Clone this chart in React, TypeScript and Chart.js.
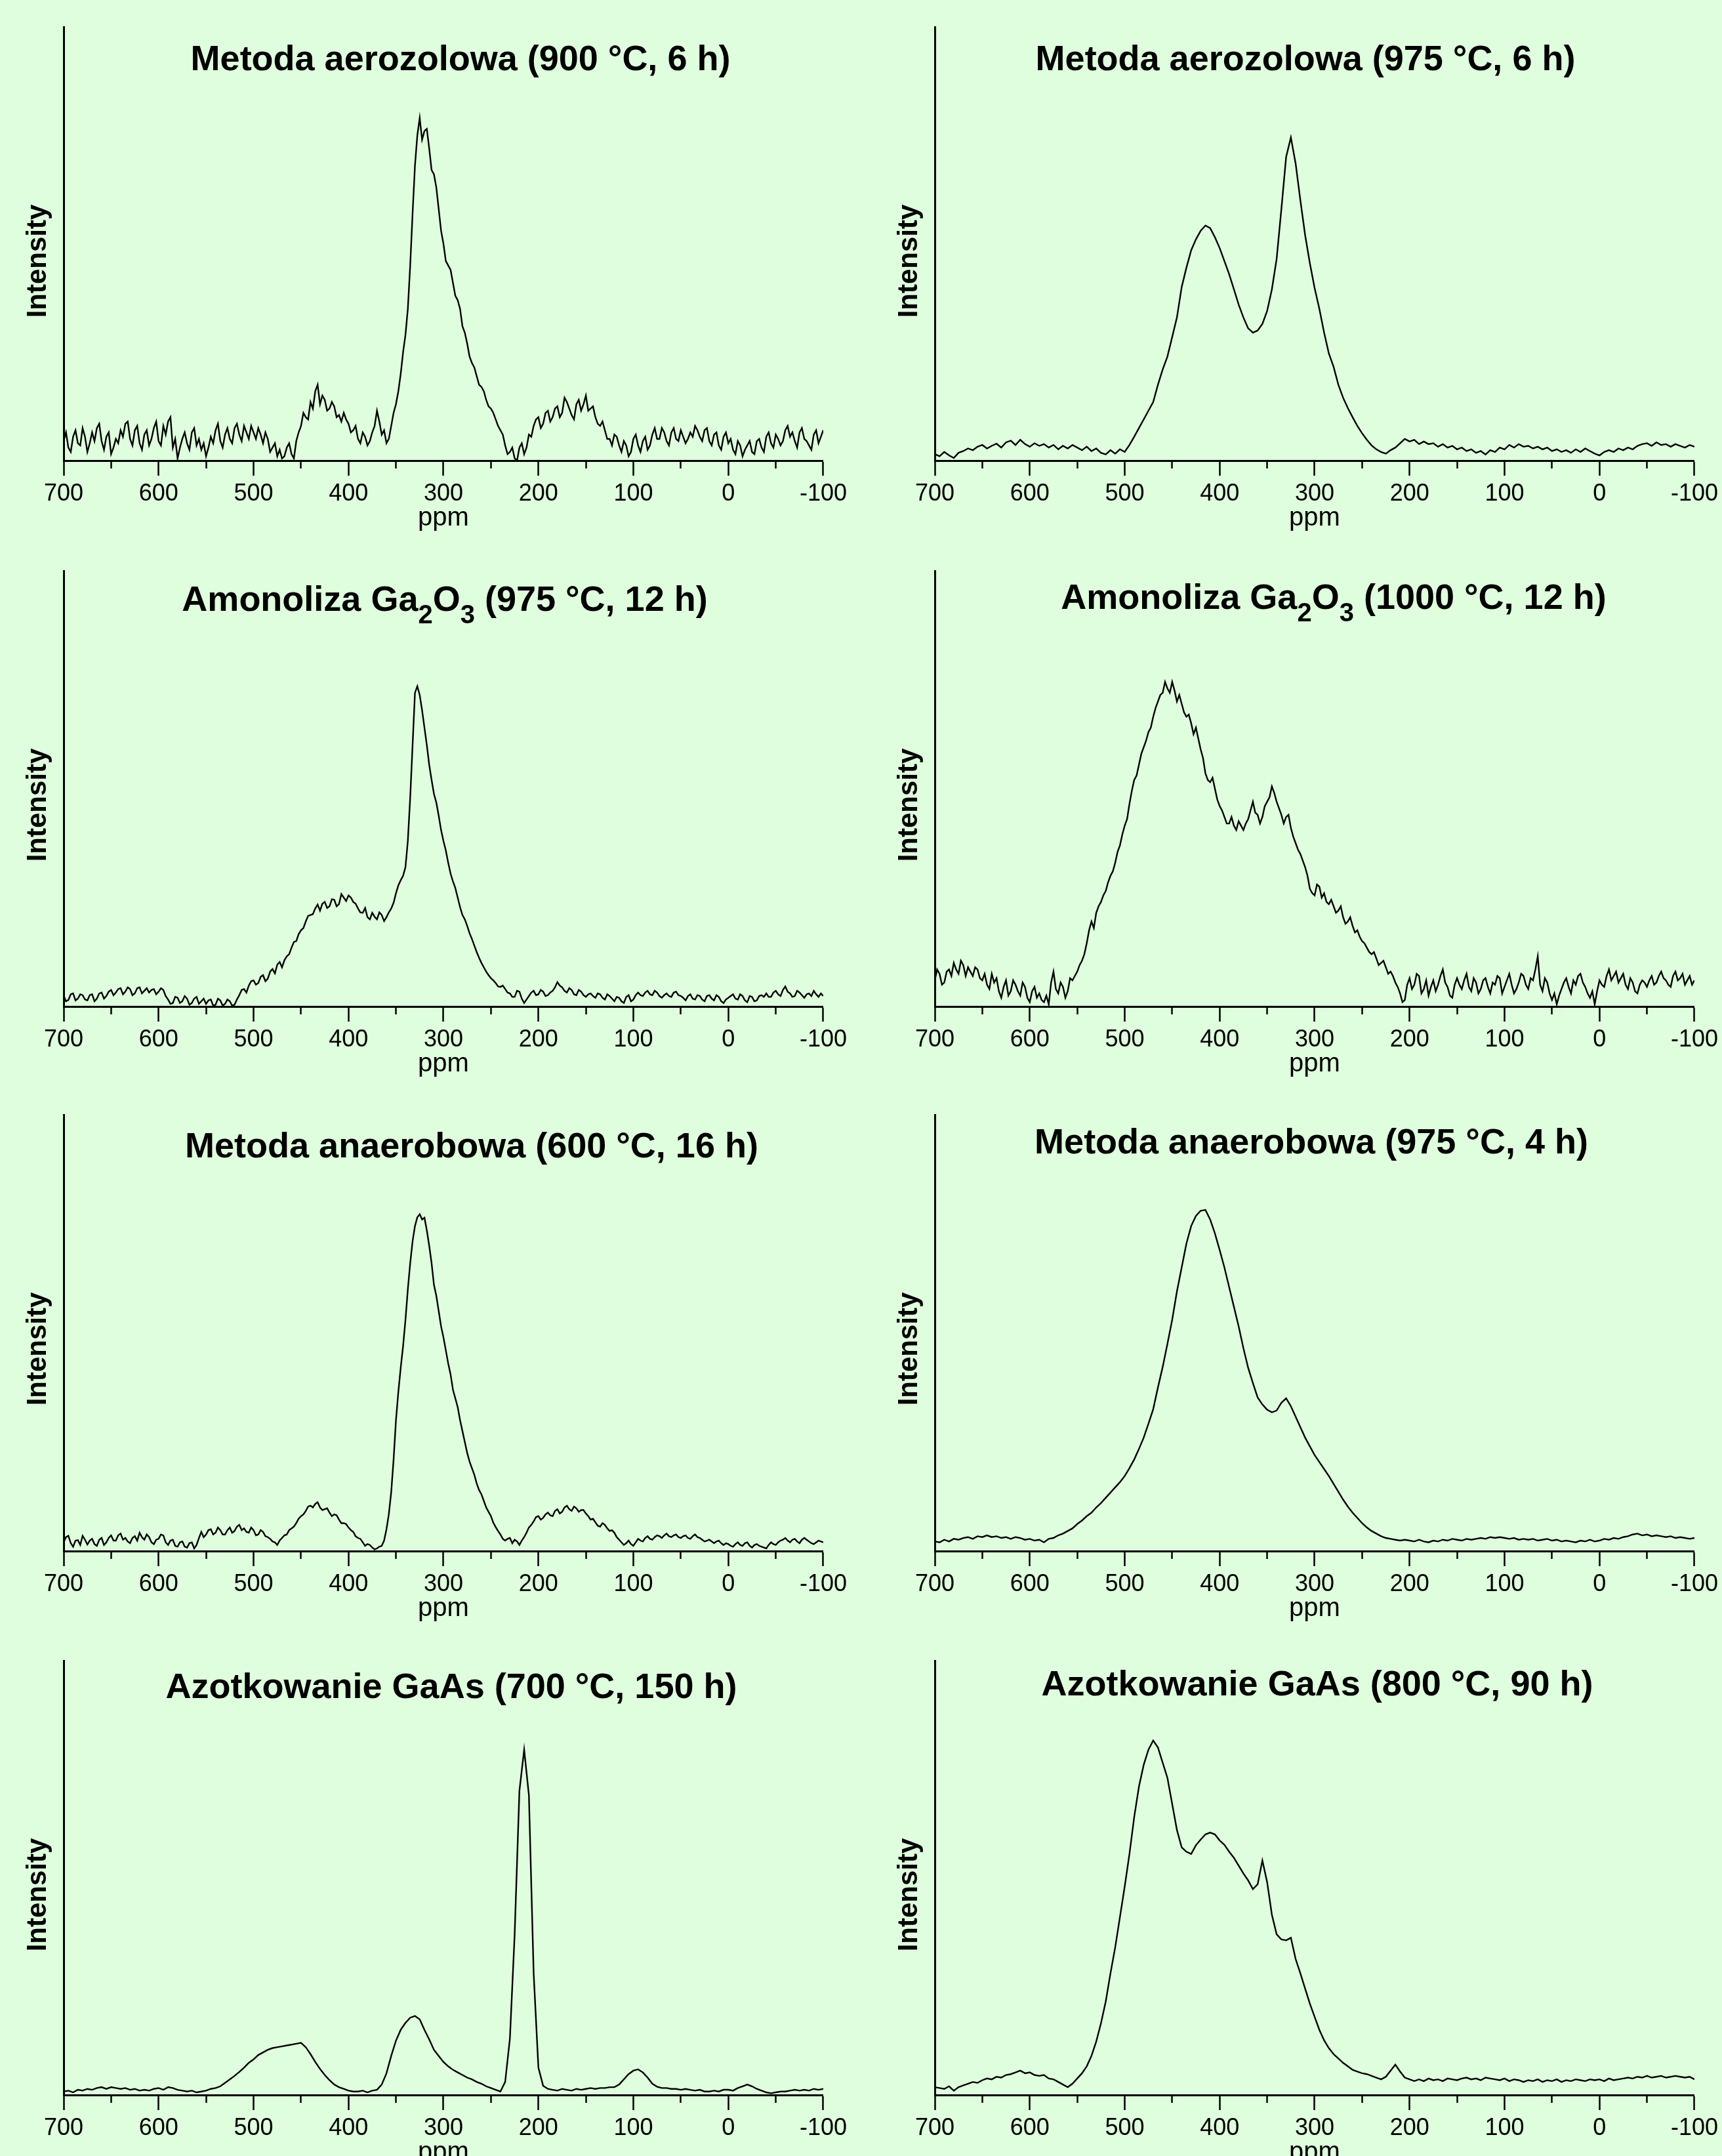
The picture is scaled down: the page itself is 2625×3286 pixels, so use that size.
import React, { useEffect, useRef } from "react";
import { Chart, registerables } from "chart.js";

Chart.register(...registerables);

// ---------- data ----------
const PPM = [
  700, 695, 690, 685, 680, 675, 670, 665, 660, 655,
  650, 645, 640, 635, 630, 625, 620, 615, 610, 605,
  600, 595, 590, 585, 580, 575, 570, 565, 560, 555,
  550, 545, 540, 535, 530, 525, 520, 515, 510, 505,
  500, 495, 490, 485, 480, 475, 470, 465, 460, 455,
  450, 445, 440, 435, 430, 425, 420, 415, 410, 405,
  400, 395, 390, 385, 380, 375, 370, 365, 360, 355,
  350, 345, 340, 335, 330, 325, 320, 315, 310, 305,
  300, 295, 290, 285, 280, 275, 270, 265, 260, 255,
  250, 245, 240, 235, 230, 225, 220, 215, 210, 205,
  200, 195, 190, 185, 180, 175, 170, 165, 160, 155,
  150, 145, 140, 135, 130, 125, 120, 115, 110, 105,
  100, 95, 90, 85, 80, 75, 70, 65, 60, 55,
  50, 45, 40, 35, 30, 25, 20, 15, 10, 5,
  0, -5, -10, -15, -20, -25, -30, -35, -40, -45,
  -50, -55, -60, -65, -70, -75, -80, -85, -90, -95,
  -100,
];

// in-between sample positions, used by the noisier spectra
const PPM_MID = [
  697.5, 692.5, 687.5, 682.5, 677.5, 672.5, 667.5, 662.5, 657.5, 652.5,
  647.5, 642.5, 637.5, 632.5, 627.5, 622.5, 617.5, 612.5, 607.5, 602.5,
  597.5, 592.5, 587.5, 582.5, 577.5, 572.5, 567.5, 562.5, 557.5, 552.5,
  547.5, 542.5, 537.5, 532.5, 527.5, 522.5, 517.5, 512.5, 507.5, 502.5,
  497.5, 492.5, 487.5, 482.5, 477.5, 472.5, 467.5, 462.5, 457.5, 452.5,
  447.5, 442.5, 437.5, 432.5, 427.5, 422.5, 417.5, 412.5, 407.5, 402.5,
  397.5, 392.5, 387.5, 382.5, 377.5, 372.5, 367.5, 362.5, 357.5, 352.5,
  347.5, 342.5, 337.5, 332.5, 327.5, 322.5, 317.5, 312.5, 307.5, 302.5,
  297.5, 292.5, 287.5, 282.5, 277.5, 272.5, 267.5, 262.5, 257.5, 252.5,
  247.5, 242.5, 237.5, 232.5, 227.5, 222.5, 217.5, 212.5, 207.5, 202.5,
  197.5, 192.5, 187.5, 182.5, 177.5, 172.5, 167.5, 162.5, 157.5, 152.5,
  147.5, 142.5, 137.5, 132.5, 127.5, 122.5, 117.5, 112.5, 107.5, 102.5,
  97.5, 92.5, 87.5, 82.5, 77.5, 72.5, 67.5, 62.5, 57.5, 52.5,
  47.5, 42.5, 37.5, 32.5, 27.5, 22.5, 17.5, 12.5, 7.5, 2.5,
  -2.5, -7.5, -12.5, -17.5, -22.5, -27.5, -32.5, -37.5, -42.5, -47.5,
  -52.5, -57.5, -62.5, -67.5, -72.5, -77.5, -82.5, -87.5, -92.5, -97.5,
];

const X_TICKS = [700, 600, 500, 400, 300, 200, 100, 0, -100];

const AERO_900 = [
  4.5, 3.0, 5.5, 4.0, 7.5, 2.0, 6.5, 7.5, 4.5, 5.5,
  1.5, 5.0, 7.0, 8.5, 5.0, 7.0, 4.0, 6.0, 3.5, 7.5,
  4.5, 8.0, 9.0, 3.0, 0.5, 5.0, 4.0, 6.5, 3.5, 2.5,
  1.0, 5.5, 7.0, 4.5, 6.0, 5.0, 7.5, 6.0, 8.0, 5.0,
  6.5, 7.5, 4.0, 5.0, 3.0, 1.0, 0.5, 3.0, 1.5, 4.5,
  8.0, 10.0, 13.5, 16.0, 13.0, 14.0, 12.0, 12.5, 10.5, 11.0,
  8.5, 7.0, 5.0, 6.5, 3.5, 6.5, 11.5, 6.0, 4.0, 8.0,
  13.0, 20.0, 29.0, 45.0, 68.0, 79.0, 76.0, 72.0, 66.0, 58.0,
  50.0, 45.0, 41.0, 37.0, 31.0, 27.0, 22.5, 19.5, 17.0, 14.0,
  12.0, 9.5, 7.0, 3.5, 2.0, 0.5, 3.0, 1.5, 6.0, 8.0,
  10.0, 8.5, 11.5, 10.0, 12.5, 11.0, 13.5, 10.5, 13.0, 11.5,
  15.0, 12.0, 10.0, 8.0, 7.0, 5.0, 6.0, 3.5, 4.5, 1.0,
  5.0, 3.5, 4.5, 2.5, 6.0, 5.0, 7.5, 4.5, 6.5, 5.0,
  7.0, 4.0, 6.5, 8.0, 5.5, 7.0, 4.5, 6.0, 3.5, 5.5,
  4.0, 2.5, 4.5, 1.0, 3.5, 2.0, 4.5, 3.0, 5.5, 4.0,
  6.0, 3.5, 7.0, 5.5, 4.5, 6.5, 5.0, 3.5, 6.0, 4.0,
  7.0,
];
const AERO_900_MID = [
  6.5, 2.0, 7.0, 3.5, 5.5, 4.0, 4.5, 8.5, 2.5, 6.5,
  3.0, 4.0, 5.5, 9.0, 3.5, 8.0, 2.5, 7.0, 5.0, 9.0,
  3.5, 6.0, 10.0, 5.0, 3.0, 6.5, 2.5, 7.5, 5.0, 4.0,
  3.0, 4.0, 8.5, 3.0, 7.5, 4.0, 8.5, 4.5, 6.5, 8.0,
  5.0, 6.0, 6.5, 2.0, 4.0, 2.5, 1.0, 4.0, 0.5, 6.5,
  11.0, 9.5, 12.0, 17.5, 15.0, 11.5, 13.5, 10.0, 9.0, 9.5,
  6.5, 8.0, 4.0, 5.5, 4.5, 8.0, 9.0, 7.0, 5.0, 11.0,
  16.0, 25.0, 35.0, 57.0, 75.0, 74.0, 76.5, 67.0, 63.0, 53.0,
  46.0, 44.0, 38.0, 35.0, 29.5, 24.0, 21.5, 17.5, 16.0, 12.5,
  11.0, 8.0, 6.0, 1.5, 3.0, 0.0, 4.0, 3.0, 5.5, 9.5,
  7.5, 11.0, 9.0, 12.0, 10.0, 14.5, 12.0, 9.5, 14.0, 13.0,
  11.5, 12.5, 8.5, 9.0, 5.0, 3.5, 5.5, 2.0, 3.5, 2.0,
  6.0, 2.0, 5.5, 3.5, 7.5, 5.0, 6.5, 3.5, 7.5, 4.5,
  5.5, 5.0, 5.5, 7.0, 4.5, 7.5, 3.5, 6.5, 2.5, 6.5,
  5.0, 1.5, 3.5, 2.5, 4.5, 1.5, 5.0, 2.0, 6.5, 3.0,
  5.0, 4.5, 8.0, 6.5, 3.0, 7.5, 4.5, 2.5, 7.0, 5.5,
];

const AERO_975 = [
  1.5, 1.0, 2.0, 1.2, 0.6, 1.8, 2.2, 2.8, 2.4, 3.2,
  3.6, 2.8, 3.4, 3.9, 3.0, 4.2, 4.6, 3.6, 4.8, 3.8,
  3.2, 4.0, 3.4, 3.8, 3.0, 3.6, 2.6, 3.4, 2.8, 3.6,
  3.0, 2.4, 3.2, 2.2, 2.8, 1.8, 1.4, 2.4, 1.6, 2.6,
  2.0, 3.6, 5.5, 7.5, 9.5, 11.5, 13.5, 17.5, 21.0, 24.0,
  28.5, 33.0, 40.0, 44.5, 48.5, 51.0, 53.0, 54.2, 53.6, 51.5,
  49.0, 46.0, 43.0, 39.5, 36.0, 33.0, 30.5, 29.5, 30.0, 31.5,
  34.5, 39.5, 46.5, 58.0, 70.0, 74.5, 68.5, 60.0, 52.0, 45.5,
  39.8, 35.0, 29.5, 24.7, 21.6, 17.5, 14.5, 12.1, 10.0, 8.0,
  6.3, 4.8, 3.5, 2.6, 2.0, 1.6, 2.4, 3.0, 4.0, 5.0,
  4.4, 4.8, 3.8, 4.4, 3.8, 4.0, 3.2, 3.8, 3.0, 3.4,
  2.6, 3.0, 2.2, 2.6, 1.8, 2.2, 1.4, 2.4, 2.0, 3.0,
  2.6, 3.6, 3.0, 3.8, 3.2, 3.4, 2.8, 3.2, 2.6, 3.0,
  2.2, 2.6, 2.0, 2.4, 1.8, 2.6, 2.0, 2.8, 2.2, 1.6,
  1.2, 2.0, 2.4, 2.0, 2.8, 2.4, 3.0, 2.6, 3.4, 3.8,
  4.0, 3.4, 4.2, 3.6, 3.8, 3.2, 3.8, 3.4, 3.0, 3.6,
  3.2,
];

const AMON_975 = [
  2.5, 1.5, 3.0, 1.8, 2.6, 1.4, 2.8, 1.8, 3.2, 2.4,
  3.8, 3.2, 4.2, 3.4, 4.0, 3.0, 4.4, 3.6, 3.2, 4.0,
  3.4, 3.8, 1.6, 0.8, 2.0, 1.2, 1.8, 0.8, 2.2, 1.2,
  0.6, 1.6, 0.4, 1.4, 0.6, 1.2, 0.4, 2.6, 4.0, 4.8,
  6.0, 5.4, 7.2, 6.4, 8.6, 9.6, 9.0, 11.5, 13.5, 15.0,
  17.5, 19.5, 21.0, 22.5, 22.0, 24.0, 23.0, 24.5, 23.5, 25.0,
  25.5, 24.0, 22.5, 21.5, 20.5, 21.5, 20.0, 21.0, 20.5, 22.5,
  26.0, 29.0, 32.0, 48.0, 72.0, 71.5, 64.0, 55.5, 48.8, 43.8,
  38.0, 33.0, 28.7, 25.0, 21.0, 18.5, 15.5, 12.5, 10.0, 8.0,
  6.5, 5.4, 4.5, 4.0, 3.0, 2.2, 3.4, 0.8, 2.4, 3.6,
  2.8, 3.4, 2.6, 3.6, 5.6, 4.4, 3.2, 3.8, 2.6, 3.4,
  2.2, 3.0, 2.0, 2.8, 1.6, 2.4, 1.2, 2.0, 0.8, 2.6,
  1.6, 3.2, 2.4, 3.6, 2.6, 3.2, 2.0, 3.0, 2.2, 3.4,
  2.4, 1.4, 2.8, 1.6, 2.4, 1.2, 2.6, 1.4, 2.2, 0.8,
  2.0, 2.8, 1.6, 2.4, 1.0, 2.2, 1.4, 2.6, 3.0, 2.2,
  3.6, 2.4, 4.6, 3.0, 2.4, 3.2, 2.0, 3.0, 3.6, 2.2,
  2.4,
];
const AMON_975_MID = [
  1.2, 2.8, 1.4, 2.8, 1.6, 2.6, 1.2, 3.0, 1.8, 3.4,
  2.6, 4.0, 2.8, 4.4, 2.6, 4.2, 3.0, 4.2, 3.8, 2.8,
  4.2, 2.4, 0.6, 2.2, 0.8, 2.4, 0.4, 1.8, 0.6, 1.8,
  1.4, 0.2, 1.8, 0.2, 1.6, 0.2, 1.6, 3.8, 3.2, 5.8,
  5.0, 6.8, 5.8, 8.0, 7.6, 10.2, 10.6, 12.0, 14.8, 16.6,
  18.0, 20.8, 21.2, 23.4, 23.6, 22.6, 24.6, 23.0, 25.8, 24.2,
  25.0, 23.6, 21.6, 22.6, 20.0, 20.6, 21.6, 19.6, 21.6, 23.8,
  27.8, 30.0, 38.0, 60.0, 73.5, 68.0, 60.0, 52.0, 46.8, 40.5,
  35.8, 30.5, 27.2, 22.8, 20.0, 16.8, 14.0, 11.2, 9.0, 7.2,
  6.0, 4.6, 4.8, 3.2, 2.2, 3.6, 1.8, 1.6, 3.2, 2.6,
  3.8, 2.4, 3.2, 4.4, 4.8, 3.6, 4.2, 2.8, 3.8, 2.6,
  2.8, 2.4, 3.0, 2.0, 2.8, 1.8, 2.2, 1.2, 2.2, 1.2,
  2.6, 2.6, 3.2, 2.8, 3.6, 2.4, 2.6, 2.4, 3.2, 2.6,
  2.0, 2.4, 1.8, 2.6, 1.6, 2.4, 1.8, 2.6, 1.2, 1.6,
  2.4, 1.8, 2.8, 1.4, 2.4, 1.2, 2.4, 2.2, 2.2, 3.2,
  2.8, 3.8, 3.4, 2.2, 3.6, 2.6, 2.8, 2.4, 2.8, 3.0,
];

const AMON_1000 = [
  6.0, 7.5, 5.5, 8.5, 10.0, 7.5, 9.5, 9.0, 7.0, 8.5,
  6.0, 5.0, 7.5, 6.5, 2.0, 6.0, 3.5, 5.0, 2.5, 4.5,
  1.0, 4.5, 3.0, 1.0, 0.5, 8.0, 3.0, 4.5, 3.5, 6.0,
  8.0, 10.5, 14.5, 19.5, 21.5, 24.0, 26.5, 30.0, 33.0, 37.0,
  41.5, 46.5, 52.0, 55.5, 59.5, 63.0, 66.5, 70.0, 72.0, 73.0,
  74.5, 70.0, 69.5, 66.5, 65.0, 64.0, 59.0, 53.5, 51.5, 50.0,
  46.0, 43.5, 42.0, 41.5, 42.5, 40.5, 43.0, 47.0, 44.0, 43.5,
  47.0, 50.5, 47.0, 44.0, 43.5, 41.0, 37.5, 35.0, 32.0, 27.0,
  25.5, 27.5, 26.0, 23.5, 23.0, 22.0, 20.5, 19.5, 18.5, 17.5,
  15.0, 13.5, 12.0, 11.0, 10.0, 9.0, 8.0, 5.5, 3.0, 1.5,
  6.5, 5.0, 7.0, 4.0, 2.5, 6.0, 5.0, 8.5, 4.5, 2.0,
  6.5, 4.0, 7.5, 3.5, 5.5, 4.0, 6.5, 3.0, 5.0, 6.5,
  4.5, 7.5, 3.0, 5.5, 7.0, 4.0, 6.0, 11.5, 3.5, 5.5,
  1.5, 0.5, 4.0, 6.5, 3.0, 5.0, 7.5, 4.5, 2.0, 0.5,
  6.0, 4.5, 8.5, 7.0, 5.5, 7.5, 4.0, 5.5, 3.0, 6.0,
  4.5, 7.0, 5.5, 8.0, 6.0, 4.5, 8.0, 6.5, 5.0, 7.0,
  6.0,
];
const AMON_1000_MID = [
  8.5, 5.0, 8.0, 7.0, 8.5, 10.5, 7.0, 8.0, 9.0, 6.5,
  7.5, 4.0, 5.5, 3.5, 4.5, 2.5, 6.0, 3.5, 5.5, 2.0,
  3.5, 2.0, 1.5, 2.5, 5.5, 4.0, 5.5, 2.0, 6.5, 7.0,
  9.5, 12.0, 17.5, 18.0, 23.0, 25.5, 28.5, 31.0, 35.5, 39.5,
  43.0, 49.5, 53.0, 58.0, 61.0, 64.0, 68.5, 71.5, 74.5, 72.0,
  72.5, 71.5, 67.5, 67.0, 62.5, 61.5, 57.0, 52.0, 52.5, 47.5,
  45.0, 42.0, 43.5, 40.5, 41.5, 42.0, 45.0, 44.5, 42.0, 46.0,
  48.0, 49.0, 45.5, 42.0, 44.0, 39.0, 36.0, 33.5, 30.0, 26.0,
  28.0, 25.0, 24.0, 24.5, 21.5, 23.0, 19.0, 20.5, 17.0, 16.0,
  14.5, 12.5, 12.5, 9.5, 10.5, 7.5, 7.0, 4.5, 1.0, 5.0,
  4.0, 7.5, 3.0, 6.0, 4.5, 3.5, 7.0, 5.5, 2.5, 5.0,
  5.0, 6.0, 4.5, 6.5, 3.0, 6.0, 4.5, 5.5, 7.0, 3.0,
  6.0, 5.0, 4.0, 7.5, 5.0, 6.5, 8.5, 5.0, 6.5, 3.0,
  3.0, 2.5, 5.5, 4.5, 6.0, 7.0, 5.5, 3.0, 3.5, 3.5,
  5.0, 7.0, 6.0, 8.0, 6.5, 5.0, 6.5, 3.5, 5.0, 5.5,
  6.0, 5.0, 7.0, 6.5, 5.0, 7.0, 6.0, 7.5, 6.0, 5.0,
];

const ANAER_600 = [
  2.0, 3.5, 1.0, 2.5, 3.5, 1.5, 2.8, 1.2, 3.0, 2.0,
  3.6, 2.4, 4.0, 3.0, 1.8, 3.4, 4.2, 2.6, 3.2, 1.6,
  2.8, 3.6, 1.4, 2.6, 1.0, 2.2, 0.8, 2.0, 1.4, 4.4,
  3.8, 5.0, 4.2, 4.8, 3.8, 5.4, 4.6, 6.0, 5.2, 4.2,
  4.8, 3.8, 4.4, 3.2, 2.2, 1.4, 3.0, 3.8, 5.2, 6.4,
  8.0, 9.2, 10.4, 10.8, 10.0, 9.6, 8.8, 8.4, 7.2, 6.4,
  5.4, 4.4, 3.0, 2.0, 1.6, 0.8, 0.6, 1.2, 5.0, 13.5,
  30.0, 42.0, 53.0, 66.0, 74.5, 77.2, 76.4, 70.0, 61.0, 55.0,
  49.0, 43.0, 37.0, 33.0, 27.5, 22.5, 19.0, 15.5, 13.0, 10.0,
  8.0, 5.5, 3.8, 2.4, 3.0, 2.6, 1.4, 3.2, 5.4, 6.8,
  8.0, 7.6, 8.8, 8.0, 9.6, 9.0, 10.4, 9.2, 9.8, 9.4,
  8.6, 7.2, 6.6, 5.6, 6.0, 4.6, 4.2, 2.6, 1.4, 2.4,
  1.2, 2.8, 2.2, 3.4, 2.6, 3.6, 3.0, 4.0, 3.2, 3.8,
  3.0, 3.6, 2.8, 3.8, 3.0, 2.2, 2.6, 1.8, 2.4, 1.4,
  1.6, 1.0, 2.0, 1.2, 2.0, 0.8, 1.6, 1.0, 0.6, 2.0,
  1.4, 2.4, 3.0, 2.0, 2.8, 1.8, 3.0, 2.2, 1.6, 2.4,
  2.0,
];
const ANAER_600_MID = [
  3.2, 1.8, 2.4, 1.4, 2.6, 2.4, 1.6, 2.6, 1.4, 3.0,
  2.4, 3.6, 2.6, 2.2, 3.0, 2.4, 3.2, 3.8, 2.0, 2.6,
  3.8, 2.0, 2.4, 1.2, 2.0, 1.0, 1.8, 0.6, 3.0, 3.2,
  4.8, 3.8, 5.4, 3.8, 4.8, 4.2, 5.6, 4.8, 4.4, 5.4,
  3.6, 4.8, 3.4, 2.8, 2.0, 2.4, 3.6, 4.8, 5.6, 7.4,
  8.4, 10.2, 10.0, 11.2, 9.4, 9.8, 8.0, 8.2, 6.4, 6.2,
  4.8, 3.4, 2.8, 1.2, 1.4, 0.4, 1.0, 2.4, 8.5, 21.0,
  36.5, 47.0, 60.0, 71.0, 76.5, 76.0, 73.5, 66.0, 58.5, 51.5,
  46.0, 40.5, 35.0, 30.0, 25.0, 20.5, 17.5, 14.0, 11.5, 9.0,
  6.5, 4.6, 2.8, 2.8, 1.8, 2.2, 2.4, 4.2, 6.0, 7.8,
  7.2, 8.4, 8.2, 9.2, 8.6, 10.0, 9.6, 10.2, 9.0, 9.4,
  8.0, 7.4, 5.8, 6.4, 5.2, 4.8, 3.2, 2.0, 1.8, 1.6,
  2.0, 2.4, 3.0, 2.8, 3.2, 3.4, 3.6, 3.4, 3.6, 3.2,
  3.4, 3.0, 3.4, 3.2, 2.6, 2.4, 2.2, 2.2, 1.8, 1.8,
  1.2, 1.6, 1.4, 1.8, 1.2, 1.4, 1.2, 0.8, 1.4, 1.6,
  2.0, 2.6, 2.4, 2.6, 2.2, 2.6, 2.6, 1.8, 2.0, 2.2,
];

const ANAER_975 = [
  2.2, 2.0, 2.6, 2.2, 2.8, 2.6, 3.0, 3.2, 2.8, 3.4,
  3.2, 3.6, 3.2, 3.4, 3.0, 3.2, 2.8, 3.2, 3.0, 2.6,
  2.8, 2.4, 2.6, 2.0, 2.8, 3.0, 3.6, 4.0, 4.6, 5.2,
  6.2, 7.0, 8.0, 8.8, 10.0, 11.0, 12.2, 13.4, 14.6, 15.8,
  17.2, 19.0, 21.0, 23.4, 26.0, 29.2, 32.5, 37.5, 42.2, 47.5,
  53.0, 59.5, 65.0, 70.5, 74.5, 76.8, 78.0, 78.2, 76.0, 72.8,
  69.0, 65.0, 60.5, 56.0, 51.5, 46.5, 42.0, 38.5, 35.2, 33.6,
  32.4, 31.8, 32.2, 34.0, 35.0, 33.2, 30.8, 28.4, 26.0, 24.0,
  22.0, 20.4, 18.8, 17.2, 15.4, 13.6, 11.8, 10.2, 8.8, 7.6,
  6.4, 5.4, 4.6, 4.0, 3.4, 3.0, 2.8, 2.6, 2.4, 2.6,
  2.4, 2.2, 2.6, 2.2, 2.0, 2.4, 2.2, 2.6, 2.4, 2.8,
  2.6, 2.4, 2.8, 2.6, 2.8, 3.0, 2.8, 3.2, 3.0, 3.2,
  3.0, 2.8, 3.0, 2.6, 2.8, 2.6, 2.8, 2.4, 2.6, 2.8,
  2.4, 2.6, 2.2, 2.4, 2.2, 2.0, 2.4, 2.2, 2.6, 2.2,
  2.4, 2.8, 2.6, 3.0, 2.8, 3.2, 3.4, 3.8, 4.0, 3.6,
  3.8, 3.4, 3.6, 3.4, 3.2, 3.4, 3.0, 3.2, 3.0, 2.8,
  3.0,
];

const GAAS_700 = [
  0.8, 1.0, 0.6, 1.2, 1.0, 1.4, 1.2, 1.6, 1.8, 1.4,
  1.8, 1.6, 1.4, 1.6, 1.2, 1.4, 1.0, 1.2, 1.0, 1.4,
  1.6, 1.2, 1.8, 1.6, 1.2, 1.0, 0.8, 1.0, 0.6, 0.8,
  1.0, 1.4, 1.6, 2.0, 2.8, 3.6, 4.4, 5.3, 6.3, 7.4,
  8.2, 9.2, 9.8, 10.4, 10.8, 11.0, 11.2, 11.4, 11.6, 11.8,
  12.0, 11.0, 9.4, 7.6, 6.0, 4.6, 3.4, 2.4, 1.8, 1.4,
  1.0, 0.8, 0.8, 1.0, 0.6, 1.0, 1.2, 2.4, 5.0, 9.0,
  12.5, 15.0, 16.6, 17.8, 18.2, 17.4, 15.0, 12.8, 10.4, 9.0,
  7.6, 6.6, 5.8, 5.2, 4.6, 4.0, 3.6, 3.0, 2.6, 2.0,
  1.6, 1.2, 0.8, 3.0, 13.0, 37.0, 70.0, 79.5, 69.0, 28.0,
  6.3, 2.1, 1.4, 1.2, 1.0, 1.4, 1.2, 1.0, 1.4, 1.2,
  1.4, 1.6, 1.4, 1.6, 1.6, 1.8, 1.8, 2.4, 3.6, 4.8,
  5.6, 5.9, 5.2, 4.0, 2.6, 1.9, 1.6, 1.6, 1.4, 1.4,
  1.2, 1.4, 1.2, 1.0, 1.2, 0.8, 0.8, 1.0, 0.8, 1.2,
  1.2, 1.0, 1.6, 2.0, 2.4, 2.0, 1.4, 1.0, 0.6, 0.4,
  0.6, 0.8, 0.8, 1.0, 1.2, 1.0, 1.2, 1.0, 1.4, 1.2,
  1.4,
];

const GAAS_800 = [
  1.8, 1.6, 1.4, 2.0, 1.0, 1.8, 2.2, 2.6, 3.0, 2.8,
  3.4, 3.8, 3.6, 4.2, 4.0, 4.6, 4.8, 5.2, 5.6, 5.0,
  5.2, 4.6, 4.4, 4.6, 3.8, 3.6, 3.0, 2.4, 1.8, 2.6,
  3.8, 5.0, 6.6, 9.0, 12.3, 16.5, 21.5, 28.0, 34.0, 41.0,
  48.0, 55.5, 64.0, 71.0, 76.0, 79.5, 81.6, 80.0, 76.5, 73.0,
  67.0, 61.0, 57.0, 56.0, 55.5, 57.5, 58.8, 60.0, 60.4, 60.0,
  58.6, 57.6, 56.0, 54.6, 52.8, 51.0, 49.4, 47.4, 48.5, 54.0,
  49.0, 41.5, 37.0, 35.8, 35.6, 36.2, 31.3, 28.0, 24.5, 21.0,
  18.0, 15.0, 12.6, 10.8, 9.4, 8.4, 7.4, 6.6, 5.8, 5.4,
  5.0, 4.8, 4.4, 4.0, 3.6, 4.2, 5.6, 7.0, 5.4, 4.0,
  3.6, 3.2, 3.6, 3.2, 3.8, 3.4, 3.6, 3.2, 3.8, 3.6,
  3.4, 3.8, 4.0, 3.6, 3.8, 3.4, 4.0, 3.8, 3.6, 3.4,
  3.8, 3.2, 3.6, 3.4, 3.0, 3.4, 3.2, 3.6, 3.0, 3.4,
  3.2, 3.6, 3.0, 3.4, 3.2, 3.6, 3.4, 3.2, 3.6, 3.4,
  3.6, 3.2, 3.8, 3.4, 3.6, 3.8, 4.0, 3.8, 4.2, 4.0,
  4.4, 4.0, 4.2, 4.4, 4.0, 4.2, 4.4, 4.2, 4.0, 4.2,
  3.6,
];

const TITLES = [
  "Metoda aerozolowa (900 °C, 6 h)",
  "Metoda aerozolowa (975 °C, 6 h)",
  "Amonoliza Ga_2O_3 (975 °C, 12 h)",
  "Amonoliza Ga_2O_3 (1000 °C, 12 h)",
  "Metoda anaerobowa (600 °C, 16 h)",
  "Metoda anaerobowa (975 °C, 4 h)",
  "Azotkowanie GaAs (700 °C, 150 h)",
  "Azotkowanie GaAs (800 °C, 90 h)",
];

const SERIES = [AERO_900, AERO_975, AMON_975, AMON_1000, ANAER_600, ANAER_975, GAAS_700, GAAS_800];
const SERIES_MID: (number[] | null)[] = [AERO_900_MID, null, AMON_975_MID, AMON_1000_MID, ANAER_600_MID, null, null, null];

const X_LABEL = "ppm";
const Y_LABEL = "Intensity";

// ---------- layout (positions / styles) ----------
const FONT = '"Liberation Sans", Arial, Helvetica, sans-serif';
const BG = "rgb(223, 254, 221)";
const CANVAS_W = 1297;
const COL_LEFT = [0, 1328];
const ROW_TOP = [0, 829, 1658, 2490];
const PLOT_H = [661, 664, 665, 662];
const PAD_TOP = 41;
const X_AXIS_H = 128;
const Y_AXIS_W = 97;
// title centre x and baseline y relative to each canvas
const TITLE_POS = [
  [702, 107], [662, 107],
  [678, 102], [705, 99],
  [719, 106], [671, 100],
  [688, 98], [680, 94],
];

type Seg = { text: string; sub: boolean; w?: number };

function parseTitle(t: string): Seg[] {
  const out: Seg[] = [];
  const re = /_(\d)/g;
  let last = 0;
  let m: RegExpExecArray | null;
  while ((m = re.exec(t))) {
    if (m.index > last) out.push({ text: t.slice(last, m.index), sub: false });
    out.push({ text: m[1], sub: true });
    last = m.index + m[0].length;
  }
  if (last < t.length) out.push({ text: t.slice(last), sub: false });
  return out;
}

const panelTextPlugin = {
  id: "panelText",
  afterDraw(chart: any, _args: any, opts: any) {
    const { ctx, chartArea } = chart;
    ctx.save();
    ctx.fillStyle = "#000";
    const mainFont = `bold 54px ${FONT}`;
    const subFont = `bold 40px ${FONT}`;
    const segs = parseTitle(opts.title);
    let total = 0;
    segs.forEach((s) => {
      ctx.font = s.sub ? subFont : mainFont;
      s.w = ctx.measureText(s.text).width;
      total += s.w;
    });
    let x = opts.titleX - total / 2;
    ctx.textAlign = "left";
    ctx.textBaseline = "alphabetic";
    segs.forEach((s) => {
      ctx.font = s.sub ? subFont : mainFont;
      ctx.fillText(s.text, x, opts.titleY + (s.sub ? 19 : 0));
      x += s.w || 0;
    });
    // y-axis label
    ctx.translate(58, chartArea.top + 357);
    ctx.rotate(-Math.PI / 2);
    ctx.font = `bold 42px ${FONT}`;
    ctx.textAlign = "center";
    ctx.textBaseline = "middle";
    ctx.fillText(opts.yLabel, 0, 0);
    ctx.restore();
  },
};

function buildPoints(index: number) {
  const values = SERIES[index];
  const mids = SERIES_MID[index];
  const pts: { x: number; y: number }[] = [];
  PPM.forEach((x, i) => {
    pts.push({ x, y: values[i] });
    if (mids && i < PPM_MID.length) pts.push({ x: PPM_MID[i], y: mids[i] });
  });
  return pts;
}

function Panel({ index }: { index: number }) {
  const ref = useRef<HTMLCanvasElement>(null);
  const col = index % 2;
  const row = Math.floor(index / 2);
  const h = PAD_TOP + PLOT_H[row] + X_AXIS_H;

  useEffect(() => {
    if (!ref.current) return;
    const data = buildPoints(index);
    const chart = new Chart(ref.current, {
      type: "line",
      data: {
        datasets: [
          {
            data,
            borderColor: "#000",
            borderWidth: 2.4,
            pointRadius: 0,
            tension: 0,
            fill: false,
          },
        ],
      },
      options: {
        animation: false,
        responsive: false,
        maintainAspectRatio: false,
        devicePixelRatio: 1,
        layout: { padding: { top: PAD_TOP, left: 0, right: 39, bottom: 0 } },
        plugins: {
          legend: { display: false },
          tooltip: { enabled: false },
          title: { display: false },
          panelText: {
            title: TITLES[index],
            titleX: TITLE_POS[index][0],
            titleY: TITLE_POS[index][1],
            yLabel: Y_LABEL,
          },
        } as any,
        scales: {
          x: {
            type: "linear",
            min: -100,
            max: 700,
            reverse: true,
            afterFit: (s: any) => {
              s.height = X_AXIS_H;
            },
            border: { display: true, color: "#000", width: 3 },
            grid: {
              display: true,
              drawOnChartArea: false,
              drawTicks: true,
              tickLength: 23,
              tickWidth: 2.5,
              tickColor: "#000",
              tickBorderDash: (c: any) =>
                c.tick && !X_TICKS.includes(c.tick.value) ? [10, 60] : [],
            } as any,
            ticks: {
              stepSize: 50,
              autoSkip: false,
              maxRotation: 0,
              minRotation: 0,
              padding: 6,
              color: "#000",
              font: { family: FONT, size: 36 },
              callback: (v: any) => (X_TICKS.includes(Number(v)) ? String(v) : ""),
            },
            title: {
              display: true,
              text: X_LABEL,
              color: "#000",
              font: { family: FONT, size: 40 },
              padding: { top: 0, bottom: 16 },
            },
          },
          y: {
            type: "linear",
            position: "left",
            min: 0,
            max: 100,
            afterFit: (s: any) => {
              s.width = Y_AXIS_W;
            },
            border: { display: true, color: "#000", width: 3 },
            grid: { display: false },
            ticks: { display: false },
          },
        },
      },
      plugins: [panelTextPlugin],
    } as any);
    return () => chart.destroy();
  }, [index]);

  return (
    <canvas
      ref={ref}
      width={CANVAS_W}
      height={h}
      style={{
        position: "absolute",
        left: COL_LEFT[col],
        top: ROW_TOP[row],
        width: CANVAS_W,
        height: h,
      }}
    />
  );
}

export default function App() {
  return (
    <div
      style={{
        position: "fixed",
        left: 0,
        top: 0,
        width: 2625,
        height: 3286,
        overflow: "hidden",
        background: BG,
      }}
    >
      {TITLES.map((_, i) => (
        <Panel key={i} index={i} />
      ))}
    </div>
  );
}
